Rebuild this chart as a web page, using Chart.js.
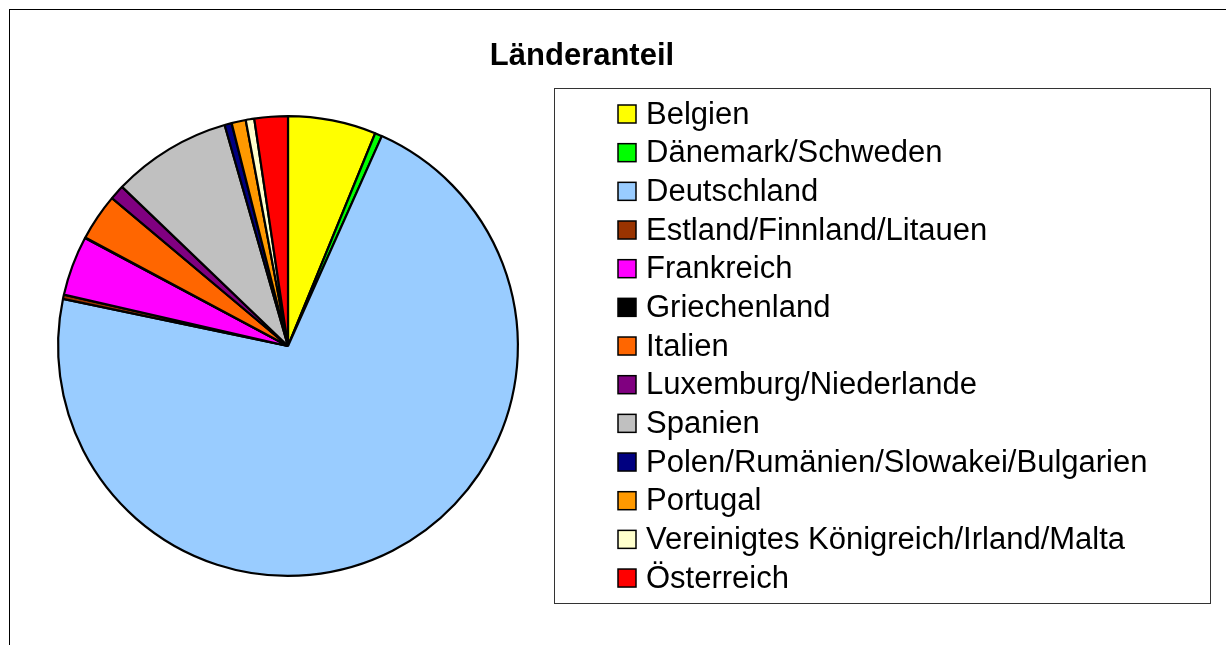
<!DOCTYPE html>
<html>
<head>
<meta charset="utf-8">
<script src="https://cdn.jsdelivr.net/npm/chart.js@4.4.1/dist/chart.umd.min.js"></script>
<style>
  html, body { margin: 0; padding: 0; background: #fff; overflow: hidden; }
  #wrap { position: relative; width: 1226px; height: 645px; }
</style>
</head>
<body>
<div id="wrap"><canvas id="pieChart" width="1226" height="645"></canvas></div>
<script>
// data
var titleText = "Länderanteil";

var countries = [
  "Belgien",
  "Dänemark/Schweden",
  "Deutschland",
  "Estland/Finnland/Litauen",
  "Frankreich",
  "Griechenland",
  "Italien",
  "Luxemburg/Niederlande",
  "Spanien",
  "Polen/Rumänien/Slowakei/Bulgarien",
  "Portugal",
  "Vereinigtes Königreich/Irland/Malta",
  "Österreich",
];

// share in percent
var shares = [6.2, 0.5, 71.7, 0.3, 4.2, 0.05, 3.3, 1.05, 8.4, 0.5, 1.0, 0.6, 2.35];

var sliceColors = [
  "#FFFF00",
  "#00FF00",
  "#99CCFF",
  "#993300",
  "#FF00FF",
  "#000000",
  "#FF6600",
  "#800080",
  "#C0C0C0",
  "#000080",
  "#FF9900",
  "#FFFFCC",
  "#FF0000",
];

// frame, title and legend box drawn by hand
var framePlugin = {
  id: "frame",
  afterDraw: function (chart) {
    var ctx = chart.ctx;
    ctx.save();

    // outer border
    ctx.strokeStyle = "#000";
    ctx.lineWidth = 1;
    ctx.strokeRect(9.5, 9.5, 1400, 800);

    // title
    ctx.fillStyle = "#000";
    ctx.font = "bold 31px 'Liberation Sans', Arial, sans-serif";
    ctx.textAlign = "center";
    ctx.textBaseline = "middle";
    ctx.fillText(titleText, 582, 56);

    // legend box
    ctx.strokeStyle = "#333";
    ctx.strokeRect(554.5, 88.5, 656, 515);

    var labels = chart.data.labels;
    var colors = chart.data.datasets[0].backgroundColor;
    var rowH = 38.67;
    ctx.font = "31px 'Liberation Sans', Arial, sans-serif";
    ctx.textAlign = "left";
    for (var i = 0; i < labels.length; i++) {
      var cy = 114 + i * rowH;
      ctx.fillStyle = colors[i];
      ctx.fillRect(618, cy - 9, 18, 18);
      ctx.strokeStyle = "#000";
      ctx.lineWidth = 1.5;
      ctx.strokeRect(618, cy - 9, 18, 18);
      ctx.fillStyle = "#000";
      ctx.fillText(labels[i], 646, cy + 1);
    }
    ctx.restore();
  },
};

var ctx = document.getElementById("pieChart").getContext("2d");
new Chart(ctx, {
  type: "pie",
  data: {
    labels: countries,
    datasets: [
      {
        data: shares,
        backgroundColor: sliceColors,
        borderColor: "#000",
        borderWidth: 2.2,
      },
    ],
  },
  options: {
    responsive: false,
    animation: false,
    layout: { padding: { left: 57, top: 115, right: 707, bottom: 68 } },
    plugins: {
      legend: { display: false },
      title: { display: false },
      tooltip: { enabled: false },
    },
  },
  plugins: [framePlugin],
});
</script>
</body>
</html>
